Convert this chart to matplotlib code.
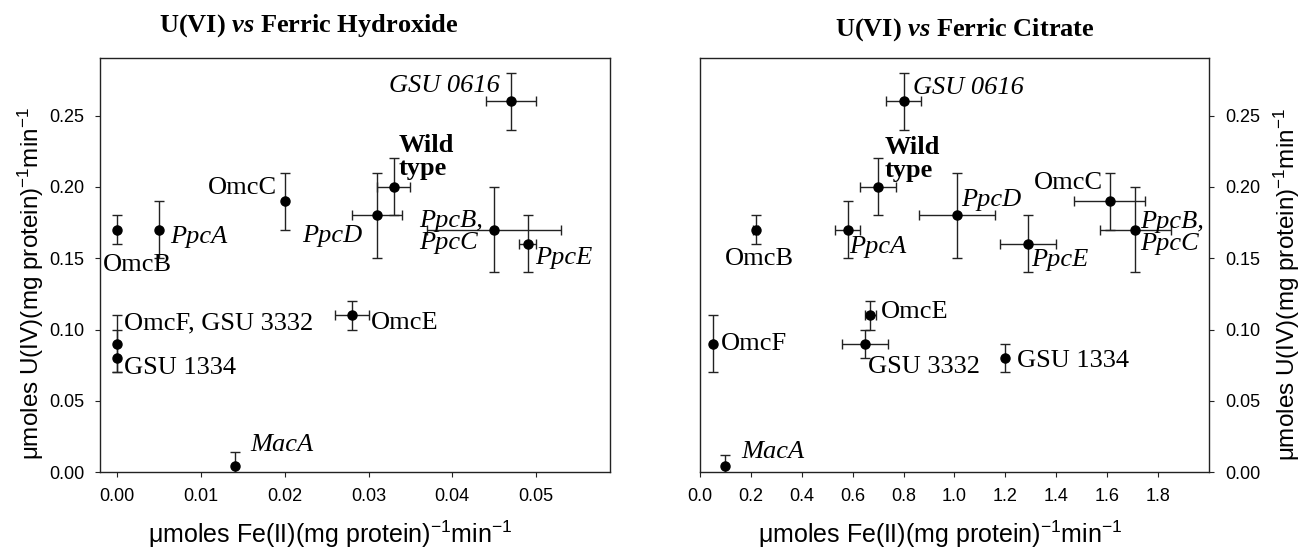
import matplotlib
matplotlib.use('Agg')
import matplotlib.pyplot as plt
import numpy as np

plt.rcParams['font.family'] = ['Liberation Sans', 'DejaVu Sans']
plt.rcParams['mathtext.default'] = 'regular'
plt.rcParams['mathtext.fontset'] = 'custom'
plt.rcParams['mathtext.bfit'] = 'Liberation Serif:italic:bold'

# ---- U(VI) vs ferric hydroxide ----
hyd_names = ['OmcB', 'PpcA', 'OmcC', 'PpcD', 'Wild\ntype', 'GSU 0616', 'PpcB,\nPpcC',
             'PpcE', 'OmcF, GSU 3332', 'GSU 1334', 'OmcE', 'MacA']
hyd_x = [0.000, 0.005, 0.020, 0.031, 0.033, 0.047, 0.045, 0.049, 0.000, 0.000, 0.028, 0.014]
hyd_y = [0.17, 0.17, 0.19, 0.18, 0.20, 0.26, 0.17, 0.16, 0.09, 0.08, 0.11, 0.004]
hyd_xerr = [0, 0, 0, 0.003, 0.002, 0.003, 0.008, 0.001, 0, 0, 0.002, 0]
hyd_yerr_lo = [0.01, 0.02, 0.02, 0.03, 0.02, 0.02, 0.03, 0.02, 0.02, 0.01, 0.01, 0.01]
hyd_yerr_hi = [0.01, 0.02, 0.02, 0.03, 0.02, 0.02, 0.03, 0.02, 0.02, 0.02, 0.01, 0.01]

# ---- U(VI) vs ferric citrate ----
cit_names = ['OmcB', 'PpcA', 'Wild\ntype', 'GSU 0616', 'PpcD', 'PpcE', 'OmcC', 'PpcB,\nPpcC',
             'OmcE', 'OmcF', 'GSU 3332', 'GSU 1334', 'MacA']
cit_x = [0.22, 0.58, 0.70, 0.80, 1.01, 1.29, 1.61, 1.71, 0.67, 0.05, 0.65, 1.20, 0.10]
cit_y = [0.17, 0.17, 0.20, 0.26, 0.18, 0.16, 0.19, 0.17, 0.11, 0.09, 0.09, 0.08, 0.004]
cit_xerr = [0.01, 0.05, 0.07, 0.07, 0.15, 0.11, 0.14, 0.14, 0.02, 0, 0.09, 0, 0]
cit_yerr = [0.01, 0.02, 0.02, 0.02, 0.03, 0.02, 0.02, 0.03, 0.01, 0.02, 0.01, 0.01, 0.008]

# label placement: pixel offset from the point, alignment, style
hyd_lab = {
    'OmcB': (-14, -35, 'left', 'normal'), 'PpcA': (11, -7, 'left', 'italic'),
    'OmcC': (-8, 13, 'right', 'normal'), 'PpcD': (-15, -21, 'right', 'italic'),
    'Wild\ntype': (5, 30, 'left', 'bold'), 'GSU 0616': (-11, 15, 'right', 'italic'),
    'PpcB,\nPpcC': (-11, -2, 'right', 'italic'), 'PpcE': (7, -14, 'left', 'italic'),
    'OmcF, GSU 3332': (7, 20, 'left', 'normal'), 'GSU 1334': (7, -10, 'left', 'normal'),
    'OmcE': (19, -8, 'left', 'normal'), 'MacA': (16, 21, 'left', 'italic'),
}
cit_lab = {
    'OmcB': (3, -29, 'center', 'normal'), 'PpcA': (2, -17, 'left', 'italic'),
    'Wild\ntype': (6, 28, 'left', 'bold'), 'GSU 0616': (9, 13, 'left', 'italic'),
    'PpcD': (4, 15, 'left', 'italic'), 'PpcE': (3, -16, 'left', 'italic'),
    'OmcC': (-7, 18, 'right', 'normal'), 'PpcB,\nPpcC': (5, -3, 'left', 'italic'),
    'OmcE': (10, 3, 'left', 'normal'), 'OmcF': (8, 0, 'left', 'normal'),
    'GSU 3332': (3, -23, 'left', 'normal'), 'GSU 1334': (12, -3, 'left', 'normal'),
    'MacA': (16, 14, 'left', 'italic'),
}

fig = plt.figure(figsize=(13.02, 5.52), dpi=100)
ax1 = fig.add_axes([0.0770, 0.1449, 0.3913, 0.7500])
ax2 = fig.add_axes([0.5376, 0.1449, 0.3910, 0.7500])

ylab = r'$\mu$moles U(IV)(mg protein)$^{-1}$min$^{-1}$'
xlab = r'$\mu$moles Fe(II)(mg protein)$^{-1}$min$^{-1}$'


def draw(ax, names, x, y, xerr, yerr, labels):
    ax.errorbar(x, y, xerr=xerr, yerr=yerr, fmt='o', color='black', ms=6.5,
                ecolor='#222222', elinewidth=1, capsize=3.5, capthick=1, zorder=3)
    for i, nm in enumerate(names):
        dx, dy, ha, st = labels[nm]
        ax.annotate(nm, (x[i], y[i]), xytext=(dx, dy), textcoords='offset pixels',
                    ha=ha, va='center', fontsize=19, family='Liberation Serif',
                    style='italic' if st == 'italic' else 'normal',
                    weight='bold' if st == 'bold' else 'normal',
                    linespacing=1.02, multialignment='left')
    for s in ax.spines.values():
        s.set_color('#222222')
        s.set_linewidth(1)
    ax.tick_params(direction='out', length=3.6, width=0.8, labelsize=13, color='#222222')
    ax.set_ylim(0, 0.2905)
    ax.set_yticks(np.arange(0, 0.26, 0.05))
    ax.yaxis.set_major_formatter(plt.FormatStrFormatter('%.2f'))


draw(ax1, hyd_names, hyd_x, hyd_y, hyd_xerr, [hyd_yerr_lo, hyd_yerr_hi], hyd_lab)
ax1.set_xlim(-0.00203, 0.0588)
ax1.set_xticks(np.arange(0, 0.051, 0.01))
ax1.xaxis.set_major_formatter(plt.FormatStrFormatter('%.2f'))
ax1.tick_params(axis='x', pad=8)
ax1.tick_params(axis='y', pad=8)
ax1.set_xlabel(xlab, fontsize=18, va='center')
ax1.xaxis.set_label_coords(0.451, -0.150)
ax1.set_ylabel(ylab, fontsize=17.5, va='center')
ax1.yaxis.set_label_coords(-0.136, 0.454)

draw(ax2, cit_names, cit_x, cit_y, cit_xerr, cit_yerr, cit_lab)
ax2.set_xlim(0, 2.0)
ax2.set_xticks(np.arange(0, 1.81, 0.2))
ax2.xaxis.set_major_formatter(plt.FormatStrFormatter('%.1f'))
ax2.yaxis.tick_right()
ax2.yaxis.set_label_position('right')
ax2.tick_params(axis='x', pad=8)
ax2.tick_params(axis='y', pad=8)
ax2.set_xlabel(xlab, fontsize=18, va='center')
ax2.xaxis.set_label_coords(0.4715, -0.150)
ax2.set_ylabel(ylab, fontsize=17.5, va='center')
ax2.yaxis.set_label_coords(1.152, 0.452)

fig.text(309 / 1302, 1 - 26 / 552, r'U(VI) $\mathbfit{vs}$ Ferric Hydroxide', ha='center', va='center',
         fontsize=19, family='Liberation Serif', weight='bold')
fig.text(965 / 1302, 1 - 30 / 552, r'U(VI) $\mathbfit{vs}$ Ferric Citrate', ha='center', va='center',
         fontsize=19, family='Liberation Serif', weight='bold')

fig.savefig('out.png', dpi=100)
